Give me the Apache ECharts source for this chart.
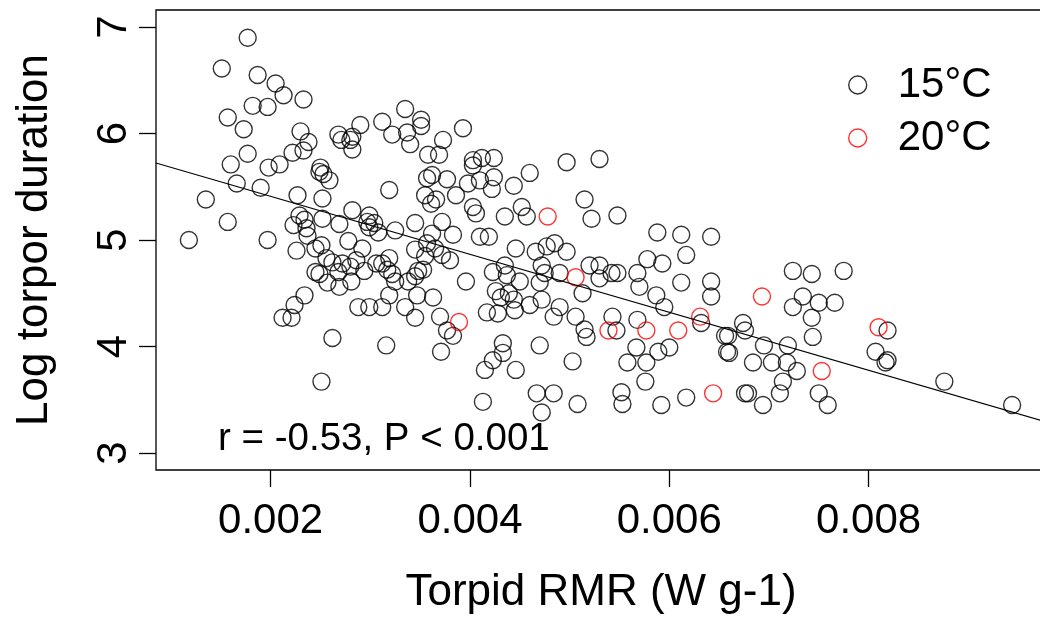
<!DOCTYPE html>
<html>
<head>
<meta charset="utf-8">
<script src="https://cdn.jsdelivr.net/npm/echarts@6/dist/echarts.min.js"></script>
<style>html,body{margin:0;padding:0;background:#fff;}#c{width:1040px;height:619px;}</style>
</head>
<body>
<div id="c"></div>
<script>
// ---- data ----
const rmr15 = [0.00118,0.00135,0.00151,0.00157,0.00157,0.00160,0.00166,0.00173,0.00177,0.00177,
0.00182,0.00187,0.00190,0.00197,0.00197,0.00198,0.00205,0.00209,0.00213,0.00222,
0.00212,0.00221,0.00223,0.00226,0.00224,0.00227,0.00230,0.00233,0.00233,0.00238,
0.00229,0.00234,0.00236,0.00237,0.00234,0.00245,0.00251,0.00245,0.00249,0.00250,
0.00249,0.00253,0.00259,0.00252,0.00252,0.00256,0.00262,0.00272,0.00268,0.00257,
0.00269,0.00281,0.00280,0.00269,0.00278,0.00262,0.00251,0.00268,0.00271,0.00280,
0.00282,0.00290,0.00282,0.00282,0.00299,0.00297,0.00304,0.00299,0.00308,0.00292,
0.00286,0.00294,0.00306,0.00319,0.00312,0.00317,0.00322,0.00325,0.00338,0.00319,
0.00325,0.00345,0.00312,0.00335,0.00322,0.00337,0.00351,0.00351,0.00340,0.00358,
0.00369,0.00373,0.00393,0.00403,0.00412,0.00424,0.00403,0.00357,0.00362,0.00377,
0.00398,0.00410,0.00424,0.00422,0.00444,0.00355,0.00366,0.00361,0.00386,0.00403,
0.00406,0.00435,0.00452,0.00457,0.00460,0.00372,0.00362,0.00383,0.00410,0.00419,
0.00357,0.00365,0.00372,0.00345,0.00355,0.00380,0.00348,0.00353,0.00345,0.00396,
0.00423,0.00435,0.00437,0.00426,0.00431,0.00439,0.00444,0.00417,0.00428,0.00445,
0.00319,0.00347,0.00363,0.00312,0.00335,0.00345,0.00370,0.00377,0.00383,0.00288,
0.00299,0.00316,0.00371,0.00446,0.00466,0.00477,0.00485,0.00497,0.00450,0.00472,
0.00475,0.00470,0.00490,0.00513,0.00460,0.00472,0.00490,0.00484,0.00506,0.00515,
0.00517,0.00503,0.00433,0.00433,0.00423,0.00415,0.00446,0.00470,0.00467,0.00484,
0.00472,0.00413,0.00508,0.00497,0.00530,0.00515,0.00522,0.00548,0.00588,0.00612,
0.00642,0.00520,0.00530,0.00530,0.00542,0.00548,0.00568,0.00570,0.00578,0.00593,
0.00617,0.00612,0.00642,0.00642,0.00587,0.00595,0.00543,0.00547,0.00568,0.00567,
0.00558,0.00577,0.00589,0.00600,0.00576,0.00552,0.00553,0.00592,0.00617,0.00656,
0.00658,0.00632,0.00724,0.00743,0.00775,0.00734,0.00724,0.00750,0.00766,0.00743,
0.00744,0.00674,0.00676,0.00659,0.00660,0.00695,0.00719,0.00684,0.00703,0.00718,
0.00728,0.00714,0.00711,0.00676,0.00679,0.00694,0.00750,0.00759,0.00819,0.00807,
0.00817,0.00819,0.00876,0.00944];
const dur15 = [5.00,5.38,6.61,6.15,5.17,5.71,5.53,6.04,6.90,5.81,
6.26,6.55,5.49,5.00,6.25,5.68,6.47,5.71,6.36,5.82,
4.27,4.27,5.14,4.90,4.39,5.42,6.02,6.32,5.84,5.92,
5.23,5.19,5.11,5.04,4.48,4.92,4.95,4.70,4.68,5.68,
5.64,5.62,5.56,5.39,5.20,4.83,4.79,4.78,4.70,4.60,
4.56,4.61,4.75,5.15,4.99,4.08,3.67,5.99,5.94,5.94,
5.97,6.08,5.85,5.28,5.23,5.17,5.16,5.12,5.07,4.92,
4.81,4.71,4.78,4.83,4.78,4.72,4.68,4.61,4.61,5.47,
5.09,5.16,6.11,6.23,5.99,6.01,6.13,6.07,5.90,5.80,
5.80,5.94,6.05,5.75,5.77,5.77,5.70,5.58,5.61,5.57,
5.53,5.56,5.59,5.48,5.51,5.42,5.38,5.34,5.42,5.31,
5.25,5.22,5.31,5.22,5.63,5.17,5.06,5.05,5.03,5.03,
4.97,4.92,4.86,4.91,4.85,4.81,4.71,4.72,4.66,4.61,
4.70,4.76,4.67,4.52,4.46,4.50,4.44,4.32,4.31,4.34,
4.48,4.48,4.46,4.37,4.37,4.27,4.28,4.15,4.10,4.37,
4.37,4.01,3.95,4.92,4.89,4.94,4.97,4.89,4.61,4.76,
4.69,4.60,4.69,4.50,4.39,4.44,4.37,4.28,4.28,4.16,
4.09,3.86,4.03,3.94,3.87,3.78,3.78,4.01,3.56,3.56,
3.38,3.48,3.46,5.73,5.76,5.38,5.20,5.23,5.07,5.05,
5.03,4.76,4.76,4.64,4.69,4.69,4.69,4.56,4.82,4.78,
4.86,4.60,4.61,4.47,4.48,4.37,4.28,4.15,4.25,3.99,
3.85,3.85,3.95,3.99,3.67,3.57,3.46,3.45,3.52,4.10,
3.95,4.22,4.71,4.68,4.71,4.47,4.37,4.41,4.41,4.27,
4.09,4.22,4.15,4.10,3.94,4.01,4.01,3.85,3.85,3.85,
3.77,3.67,3.56,3.56,3.56,3.45,3.56,3.45,4.15,3.95,
3.85,3.87,3.67,3.45];
const rmr20 = [0.00389,0.00478,0.00506,0.00539,0.00577,0.00609,0.00631,0.00644,0.00693,0.00753,0.00810];
const dur20 = [4.23,5.22,4.65,4.15,4.15,4.15,4.28,3.56,4.47,3.77,4.18];
const xTicks = [0.002, 0.004, 0.006, 0.008];
const yTicks = [3, 4, 5, 6, 7];
const fitIntercept = 5.954;
const fitSlope = -272.1;
const statText = 'r = -0.53, P < 0.001';
const X_MIN = 0.00085, X_MAX = 0.00978, Y_MIN = 2.84, Y_MAX = 7.16;

const FONT = '"Liberation Sans", Arial, sans-serif';
const pts15 = rmr15.map((v, i) => [v, dur15[i]]);
const pts20 = rmr20.map((v, i) => [v, dur20[i]]);
const fitLine = [X_MIN, X_MAX].map(x => [x, fitIntercept + fitSlope * x]);

const chart = echarts.init(document.getElementById('c'), null, {renderer: 'canvas'});
chart.setOption({
  animation: false,
  backgroundColor: '#fff',
  grid: {left: 156, top: 10, width: 890, bottom: 149, show: true,
         outerBoundsMode: 'none', containLabel: false,
         borderColor: '#000', borderWidth: 1.3, backgroundColor: 'transparent'},
  xAxis: {
    type: 'value', min: X_MIN, max: X_MAX,
    name: 'Torpid RMR (W g-1)', nameLocation: 'middle', nameGap: 101,
    nameTextStyle: {fontSize: 44, color: '#000', fontFamily: FONT},
    axisLine: {show: false},
    splitLine: {show: false},
    axisTick: {show: true, length: 17, customValues: xTicks, lineStyle: {color: '#000', width: 1.3}},
    axisLabel: {customValues: xTicks, fontSize: 42, color: '#000', fontFamily: FONT, margin: 30,
                formatter: v => v.toFixed(3)}
  },
  yAxis: {
    type: 'value', min: Y_MIN, max: Y_MAX,
    name: 'Log torpor duration', nameLocation: 'middle', nameGap: 99,
    nameTextStyle: {fontSize: 44, color: '#000', fontFamily: FONT},
    axisLine: {show: false},
    splitLine: {show: false},
    axisTick: {show: true, length: 17, customValues: yTicks, lineStyle: {color: '#000', width: 1.3}},
    axisLabel: {customValues: yTicks, fontSize: 42, color: '#000', fontFamily: FONT, margin: 21, rotate: 90}
  },
  legend: {
    orient: 'vertical', left: 843, top: 59, itemGap: 11, itemWidth: 18, itemHeight: 18,
    icon: 'circle',
    textStyle: {fontSize: 42, color: '#000', fontFamily: FONT, lineHeight: 42, padding: [0, 0, 0, 26]},
    data: [
      {name: '15°C', itemStyle: {color: 'rgba(0,0,0,0)', borderColor: '#000', borderWidth: 1.4}},
      {name: '20°C', itemStyle: {color: 'rgba(0,0,0,0)', borderColor: '#ff0000', borderWidth: 1.4}}
    ]
  },
  graphic: [{
    type: 'text', left: 218, top: 420,
    style: {text: statText, fontSize: 38.5, fill: '#000', fontFamily: FONT}
  }],
  series: [
    {name: '15°C', type: 'scatter', data: pts15, symbol: 'circle', symbolSize: 17,
     itemStyle: {color: 'rgba(0,0,0,0)', borderColor: '#000', borderWidth: 1.4}},
    {name: '20°C', type: 'scatter', data: pts20, symbol: 'circle', symbolSize: 17,
     itemStyle: {color: 'rgba(0,0,0,0)', borderColor: '#ff0000', borderWidth: 1.4}},
    {name: 'fit', type: 'line', data: fitLine, showSymbol: false, clip: true,
     lineStyle: {color: '#000', width: 1.2}, silent: true}
  ]
});
</script>
</body>
</html>
